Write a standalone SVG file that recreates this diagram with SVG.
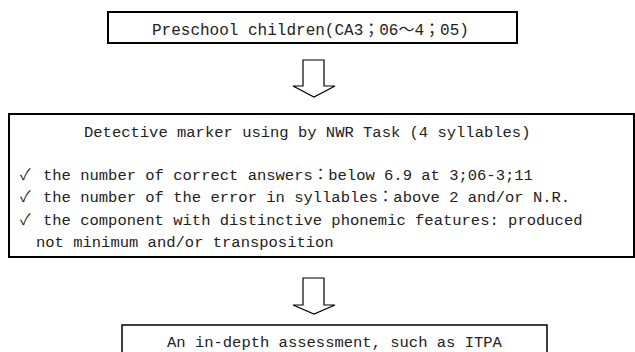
<svg xmlns="http://www.w3.org/2000/svg" width="635" height="352" viewBox="0 0 635 352">
<style>
.box{fill:#fff;stroke:#000;stroke-width:1.5}
.thick{stroke-width:2}
.t{font-family:"Liberation Mono","Noto Sans CJK JP",monospace;fill:#222;font-size:15.5px}
.arrow{fill:#fff;stroke:#000;stroke-width:1.2;stroke-linejoin:miter}
</style>
<rect width="635" height="352" fill="#fff"/>
<g id="node-preschool">
<rect class="box thick" x="108" y="12" width="409" height="31"/>
<text class="t" x="152" y="35" style="font-size:16px">Preschool children(CA3；06～4；05)</text>
</g>
<g id="node-detective">
<rect class="box thick" x="9" y="114" width="625" height="143"/>
<text class="t" x="84" y="137">Detective marker using by NWR Task (4 syllables)</text>
<text class="t" x="20" y="180">✓</text>
<text class="t" x="43" y="180">the number of correct answers：below 6.9 at 3;06-3;11</text>
<text class="t" x="20" y="202">✓</text>
<text class="t" x="43" y="202">the number of the error in syllables：above 2 and/or N.R.</text>
<text class="t" x="20" y="225">✓</text>
<text class="t" x="43" y="225">the component with distinctive phonemic features: produced</text>
<text class="t" x="36" y="247">not minimum and/or transposition</text>
</g>
<g id="node-assessment">
<rect class="box" x="122" y="325" width="425" height="40"/>
<text class="t" x="167" y="347">An in-depth assessment, such as ITPA</text>
</g>
<g id="connectors">
<path class="arrow" d="M303,60 H324 V86 H335 L314,97 L293,86 H303 Z"/>
<path class="arrow" d="M303,278 H324 V305 H335 L314,314 L293,305 H303 Z"/>
</g>
</svg>
